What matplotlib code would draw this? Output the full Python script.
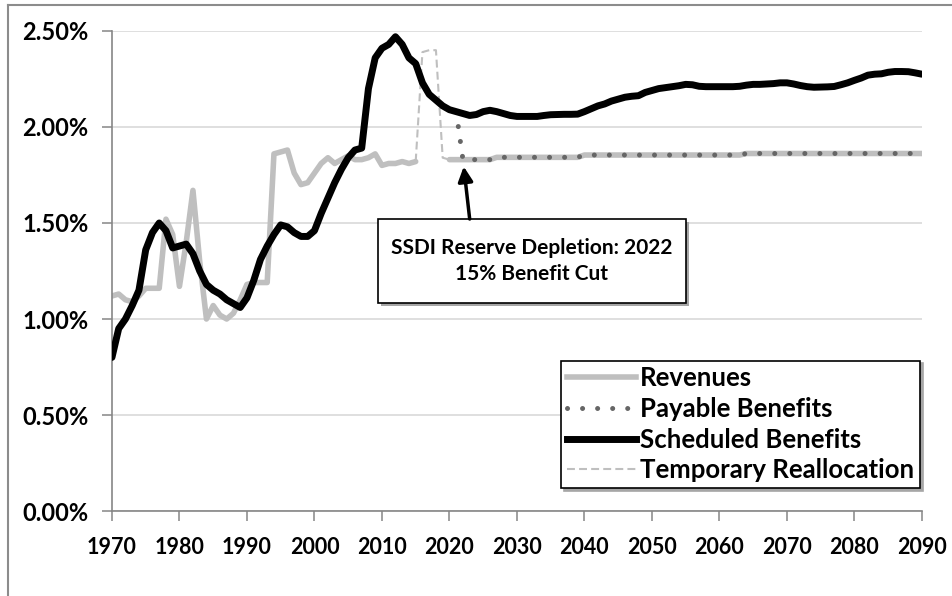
import numpy as np
import matplotlib
matplotlib.use("Agg")
import matplotlib.pyplot as plt
import matplotlib.patches as mpatches
import matplotlib.transforms as mtransforms
from matplotlib.lines import Line2D
from matplotlib.ticker import FuncFormatter

plt.rcParams["font.family"] = ["Lato", "DejaVu Sans"]
plt.rcParams["font.weight"] = "bold"

# ── Data (percent of taxable payroll) ────────────────────────────────
years_all = np.arange(1970, 2091)

scheduled = [
    0.80, 0.95, 1.00, 1.07, 1.15, 1.36, 1.45, 1.50, 1.46, 1.37,
    1.38, 1.39, 1.34, 1.25, 1.18, 1.15, 1.13, 1.10, 1.08, 1.06,
    1.11, 1.20, 1.31, 1.38, 1.44, 1.49, 1.48, 1.45, 1.43, 1.43,
    1.46, 1.55, 1.63, 1.71, 1.78, 1.84, 1.88, 1.89, 2.20, 2.36,
    2.41, 2.43, 2.47, 2.43, 2.36, 2.33, 2.23, 2.17, 2.14, 2.11,
    2.09, 2.08, 2.07, 2.06, 2.065, 2.08, 2.087, 2.08, 2.07, 2.06,
    2.055, 2.055, 2.055, 2.055, 2.06, 2.064, 2.065, 2.066, 2.066, 2.067,
    2.08, 2.095, 2.11, 2.12, 2.135, 2.145, 2.155, 2.16, 2.163, 2.18,
    2.19, 2.20, 2.205, 2.21, 2.215, 2.222, 2.22, 2.212, 2.21, 2.21,
    2.21, 2.21, 2.21, 2.212, 2.218, 2.222, 2.222, 2.224, 2.226, 2.23,
    2.23, 2.224, 2.216, 2.21, 2.207, 2.208, 2.209, 2.211, 2.22, 2.23,
    2.243, 2.255, 2.27, 2.275, 2.277, 2.285, 2.289, 2.289, 2.288, 2.282, 2.275,
]

rev_hist_years = np.arange(1970, 2016)
rev_hist = [
    1.12, 1.13, 1.10, 1.09, 1.12, 1.16, 1.16, 1.16, 1.52, 1.44,
    1.17, 1.40, 1.67, 1.30, 1.00, 1.07, 1.02, 1.00, 1.03, 1.10,
    1.18, 1.19, 1.19, 1.19, 1.86, 1.87, 1.88, 1.76, 1.70, 1.71,
    1.76, 1.81, 1.84, 1.81, 1.83, 1.85, 1.83, 1.83, 1.84, 1.86,
    1.80, 1.81, 1.81, 1.82, 1.81, 1.82,
]

rev_proj_years = np.arange(2020, 2091)
rev_proj = [
    1.83, 1.83, 1.83, 1.83, 1.83, 1.83, 1.83,
    1.842, 1.842, 1.842, 1.842, 1.842, 1.842, 1.842, 1.842, 1.842, 1.842,
    1.842, 1.842, 1.842,
    1.854, 1.854, 1.854, 1.854, 1.854, 1.854, 1.854, 1.854, 1.854, 1.854,
    1.854, 1.854, 1.854, 1.854, 1.854, 1.854, 1.854, 1.854, 1.854, 1.854,
    1.854, 1.854, 1.854, 1.854,
    1.862, 1.862, 1.862, 1.862, 1.862, 1.862, 1.862, 1.862, 1.862, 1.862,
    1.862, 1.862, 1.862, 1.862, 1.862, 1.862, 1.862, 1.862, 1.862, 1.862,
    1.862, 1.862, 1.862, 1.862, 1.862, 1.862, 1.862,
]

# payable benefits: scheduled until depletion, then what revenue covers
payable_years = np.arange(2021, 2091)
payable = [2.08] + rev_proj[2:]

realloc_years = np.arange(2015, 2021)
realloc = [1.82, 2.39, 2.40, 2.40, 1.84, 1.83]

depletion_year = 2022

# ── Styling ──────────────────────────────────────────────────────────
_GREY = "#bfbfbf"
_DOT = "#666666"
_AXIS = "#868686"
_GRID = "#d9d9d9"
_DOTS = (0, (0.01, 3.0))

fig = plt.figure(figsize=(9.52, 5.96), dpi=100)
ax = fig.add_axes([0.1176, 0.1426, 0.8508, 0.8054])

ax.plot(rev_hist_years, rev_hist, color=_GREY, lw=4, zorder=2,
        solid_capstyle="round", solid_joinstyle="round")
ax.plot(rev_proj_years, rev_proj, color=_GREY, lw=4, zorder=2,
        solid_capstyle="round", solid_joinstyle="round")
ax.plot(realloc_years, realloc, color=_GREY, lw=1.5, zorder=3,
        linestyle=(0, (3.8, 2.0)))
ax.plot(payable_years, payable, color=_DOT, lw=3.6, zorder=4,
        linestyle=_DOTS, dash_capstyle="round")
ax.plot(years_all, scheduled, color="black", lw=5, zorder=5,
        solid_capstyle="round", solid_joinstyle="round")

ax.set_xlim(1970, 2090)
ax.set_ylim(0, 2.5)
ax.set_xticks(np.arange(1970, 2091, 10))
ax.set_yticks(np.arange(0, 2.51, 0.5))
ax.yaxis.set_major_formatter(FuncFormatter(lambda v, _: f"{v:.2f}%"))

for side in ("top", "right"):
    ax.spines[side].set_visible(False)
for side in ("left", "bottom"):
    ax.spines[side].set_color(_AXIS)
    ax.spines[side].set_linewidth(1.2)
ax.spines["bottom"].set_zorder(6)

ax.yaxis.grid(True, color=_GRID, lw=1.2)
ax.set_axisbelow(True)
ax.tick_params(axis="both", direction="out", length=7, width=1.1,
               color=_AXIS, labelcolor="black")
ax.tick_params(axis="y", pad=10, labelsize=17)
ax.tick_params(axis="x", pad=12, labelsize=15.5)

# ── Annotation box ───────────────────────────────────────────────────
box = (0.3284, 0.4333, 0.3802, 0.1750)
shadow_tr = mtransforms.offset_copy(ax.transAxes, fig, x=3, y=-3, units="dots")
ax.add_patch(mpatches.Rectangle(box[:2], box[2], box[3], transform=shadow_tr,
                                facecolor="#a6a6a6", edgecolor="none",
                                zorder=7, clip_on=False))
ax.add_patch(mpatches.Rectangle(box[:2], box[2], box[3], transform=ax.transAxes,
                                facecolor="white", edgecolor="black", lw=1.2,
                                zorder=8, clip_on=False))
ax.text(box[0] + box[2] / 2, box[1] + box[3] / 2,
        "SSDI Reserve Depletion: 2022\n15% Benefit Cut",
        transform=ax.transAxes, ha="center", va="center", fontsize=15,
        linespacing=1.35, zorder=9)

dep_idx = list(payable_years).index(depletion_year)
ax.annotate("", xy=(depletion_year, payable[dep_idx]),
            xytext=(2023.0, box[1] + box[3]), textcoords=("data", "axes fraction"),
            arrowprops=dict(arrowstyle="-|>", color="black", lw=2.5,
                            mutation_scale=22, shrinkA=0, shrinkB=5),
            zorder=9)

# ── Legend ───────────────────────────────────────────────────────────
handles = [
    Line2D([], [], color=_GREY, lw=4),
    Line2D([], [], color=_DOT, lw=3.6, linestyle=_DOTS, dash_capstyle="round"),
    Line2D([], [], color="black", lw=5),
    Line2D([], [], color=_GREY, lw=1.5, linestyle=(0, (3.8, 2.0))),
]
labels = ["Revenues", "Payable Benefits", "Scheduled Benefits",
          "Temporary Reallocation"]
leg = ax.legend(handles, labels, loc="lower right",
                bbox_to_anchor=(0.9975, 0.048), borderaxespad=0,
                fontsize=18.5, handlelength=2.7, handletextpad=0.15,
                labelspacing=0.26, borderpad=0.22, fancybox=False,
                framealpha=1, edgecolor="black",
                shadow={"color": "#a6a6a6", "alpha": 1})
leg.get_frame().set_linewidth(1.2)
leg.set_zorder(10)

# outer frame of the chart area
fig.add_artist(Line2D([0.0084, 1.0], [0.9916, 0.9916], color="#8c8c8c",
                      lw=1.5, transform=fig.transFigure))
fig.add_artist(Line2D([0.0084, 0.0084], [0.0, 0.9916], color="#8c8c8c",
                      lw=1.5, transform=fig.transFigure))

fig.savefig("out.png", dpi=100)
